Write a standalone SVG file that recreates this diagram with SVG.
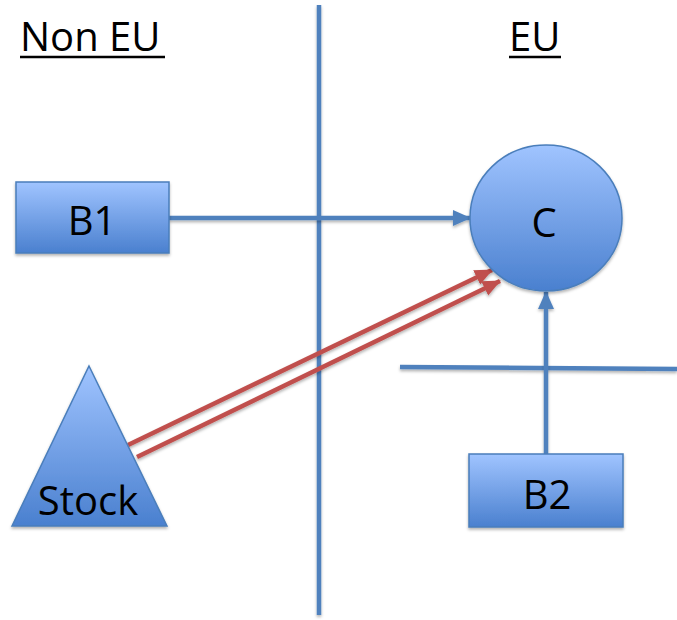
<svg xmlns="http://www.w3.org/2000/svg" width="677" height="620" viewBox="0 0 677 620">
<style>
.lbl{font-family:"Open Sans","Liberation Sans",sans-serif;font-size:40px;fill:#000;text-anchor:middle}
.hdr{font-family:"Open Sans","Liberation Sans",sans-serif;font-size:40px;fill:#000}
.shape{fill:url(#g);stroke:#4a7ebb;stroke-width:1.5;filter:url(#sh)}
.blue{stroke:#4f81bd;stroke-width:4.5;fill:none;filter:url(#sh)}
.red{stroke:#c0504d;stroke-width:4.5;fill:none;filter:url(#sh)}
</style>
<defs>
<linearGradient id="g" x1="0" y1="0" x2="0" y2="1">
<stop offset="0" stop-color="#a0c4ff"/>
<stop offset="1" stop-color="#4a80cf"/>
</linearGradient>
<filter id="sh" filterUnits="userSpaceOnUse" x="0" y="0" width="677" height="620">
<feDropShadow dx="0" dy="2" stdDeviation="1.5" flood-color="#000" flood-opacity="0.3"/>
</filter>
<marker id="ab" markerUnits="userSpaceOnUse" markerWidth="18" markerHeight="18" refX="17" refY="9" orient="auto">
<path d="M0,1 L18,9 L0,17 Z" fill="#4f81bd"/>
</marker>
<marker id="ar" markerUnits="userSpaceOnUse" markerWidth="18" markerHeight="18" refX="17" refY="9" orient="auto">
<path d="M0,1 L18,9 L0,17 Z" fill="#c0504d"/>
</marker>
</defs>
<rect width="677" height="620" fill="#fff"/>
<g id="labels">
<text class="hdr" x="20" y="51">Non EU</text>
<line x1="20" y1="57" x2="165" y2="57" stroke="#000" stroke-width="2.5"/>
<text class="hdr" x="509" y="51">EU</text>
<line x1="509" y1="57" x2="561" y2="57" stroke="#000" stroke-width="2.5"/>
</g>
<g id="borders">
<line class="blue" x1="319" y1="5" x2="319" y2="615"/>
<line class="blue" x1="400" y1="367" x2="677" y2="369"/>
</g>
<g id="connectors">
<line class="blue" x1="169" y1="218" x2="470" y2="218" marker-end="url(#ab)"/>
<line class="blue" x1="546" y1="454" x2="546" y2="292" marker-end="url(#ab)"/>
<line class="red" x1="128" y1="445" x2="492" y2="270" marker-end="url(#ar)"/>
<line class="red" x1="137" y1="457" x2="500" y2="281" marker-end="url(#ar)"/>
</g>
<g id="B1">
<rect class="shape" x="16" y="182" width="153" height="71"/>
<text class="lbl" x="92" y="235">B1</text>
</g>
<g id="C">
<ellipse class="shape" cx="546" cy="218" rx="76" ry="73"/>
<text class="lbl" x="544" y="237">C</text>
</g>
<g id="B2">
<rect class="shape" x="469" y="454" width="154" height="73"/>
<text class="lbl" x="547" y="509">B2</text>
</g>
<g id="Stock">
<polygon class="shape" points="89,366 167,526 12,526"/>
<text class="lbl" x="88" y="515">Stock</text>
</g>
</svg>
